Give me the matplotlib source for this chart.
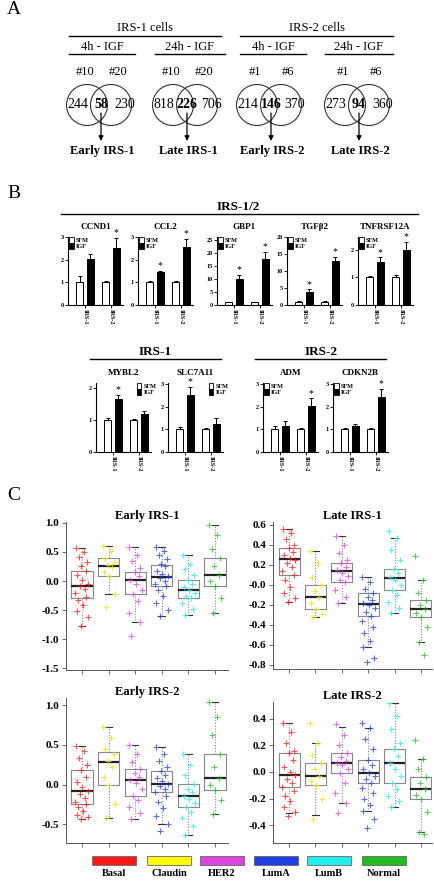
import numpy as np
import matplotlib as mpl
import matplotlib.pyplot as plt
from matplotlib.patches import Circle, Rectangle, Patch

mpl.rcParams['font.family'] = 'Liberation Serif'
mpl.rcParams['axes.unicode_minus'] = False

W, H = 435, 883

# ===== Panel A data =====
venn_cells = ['IRS-1 cells', 'IRS-2 cells']
venn_times = ['4h - IGF', '24h - IGF', '4h - IGF', '24h - IGF']
venn_clones = [('#10', '#20'), ('#10', '#20'), ('#1', '#6'), ('#1', '#6')]
venn_left = [244, 818, 214, 273]
venn_both = [58, 226, 146, 94]
venn_right = [230, 706, 370, 360]
venn_names = ['Early IRS-1', 'Late IRS-1', 'Early IRS-2', 'Late IRS-2']

# ===== Panel B data =====
cell_lines = ['IRS-1', 'IRS-2']
bar_genes = ['CCND1', 'CCL2', 'GBP1', 'TGFβ2', 'TNFRSF12A',
             'MYBL2', 'SLC7A11', 'ADM', 'CDKN2B']
sfm_mean = [[1.0, 1.0]] * 9
sfm_err = [[0.28, 0.08], [0.05, 0.05], [0.2, 0.2], [0.2, 0.1], [0.07, 0.1],
           [0.07, 0.03], [0.1, 0.05], [0.15, 0.08], [0.07, 0.05]]
igf_mean = [[2.05, 2.5], [1.45, 2.55], [10.0, 17.6], [3.7, 12.8], [1.55, 2.0],
            [1.65, 1.17], [2.52, 1.25], [1.17, 2.02], [1.17, 2.45]]
igf_err = [[0.2, 0.45], [0.06, 0.35], [1.7, 2.9], [0.9, 1.3], [0.18, 0.3],
           [0.12, 0.1], [0.35, 0.25], [0.18, 0.35], [0.05, 0.35]]
igf_star = [[0, 1], [1, 1], [1, 1], [1, 1], [1, 1],
            [1, 0], [1, 0], [0, 1], [0, 1]]

# ===== Panel C data =====
subtypes = ['Basal', 'Claudin', 'HER2', 'LumA', 'LumB', 'Normal']
c_titles = ['Early IRS-1', 'Late IRS-1', 'Early IRS-2', 'Late IRS-2']
p_values = ['1.33E-07', '1.03E-49', '2.63E-09', '3.78E-05']

# (whisker low, q1, median, q3, whisker high) per subtype
early1_box = [(-0.78, -0.29, -0.09, 0.17, 0.57), (-0.22, 0.08, 0.26, 0.40, 0.61),
              (-0.70, -0.22, 0.01, 0.16, 0.58), (-0.61, -0.08, 0.07, 0.28, 0.58),
              (-0.58, -0.30, -0.15, 0.02, 0.45), (-0.55, -0.09, 0.11, 0.40, 0.96)]
late1_box = [(-0.17, 0.10, 0.26, 0.37, 0.56), (-0.32, -0.24, -0.12, 0.0, 0.34),
             (-0.18, 0.03, 0.14, 0.22, 0.49), (-0.62, -0.31, -0.19, -0.08, 0.08),
             (-0.28, -0.05, 0.07, 0.16, 0.47), (-0.57, -0.32, -0.24, -0.15, 0.05)]
early2_box = [(-0.44, -0.25, -0.08, 0.18, 0.48), (-0.42, -0.01, 0.28, 0.41, 0.73),
              (-0.44, -0.14, 0.06, 0.19, 0.50), (-0.50, -0.09, 0.01, 0.17, 0.47),
              (-0.64, -0.28, -0.14, 0.01, 0.39), (-0.37, -0.07, 0.08, 0.38, 1.04)]
late2_box = [(-0.31, -0.11, -0.02, 0.14, 0.37), (-0.32, -0.10, -0.03, 0.07, 0.22),
             (-0.23, -0.01, 0.07, 0.14, 0.34), (-0.29, -0.08, -0.01, 0.09, 0.33),
             (-0.26, -0.08, 0.07, 0.17, 0.52), (-0.45, -0.20, -0.13, -0.04, 0.10)]

early1_pts = [
    [0.57, 0.50, 0.42, 0.33, 0.25, 0.17, 0.10, 0.02, -0.05, -0.09, -0.14, -0.20, -0.27, -0.33, -0.42, -0.52, -0.62, -0.78],
    [0.61, 0.52, 0.40, 0.33, 0.28, 0.24, 0.15, 0.08, -0.22, -0.45],
    [0.58, 0.45, 0.35, 0.22, 0.16, 0.08, 0.01, -0.05, -0.15, -0.22, -0.35, -0.55, -0.70, -0.95],
    [0.58, 0.52, 0.45, 0.38, 0.30, 0.25, 0.18, 0.12, 0.08, 0.05, 0.0, -0.05, -0.08, -0.15, -0.25, -0.38, -0.50, -0.61],
    [0.45, 0.30, 0.20, 0.10, 0.02, -0.05, -0.10, -0.15, -0.20, -0.26, -0.30, -0.38, -0.48, -0.58],
    [0.96, 0.80, 0.55, 0.40, 0.25, 0.11, 0.0, -0.09, -0.30, -0.55]]
late1_pts = [
    [0.56, 0.52, 0.46, 0.40, 0.37, 0.33, 0.30, 0.27, 0.25, 0.22, 0.18, 0.14, 0.10, 0.05, -0.02, -0.08, -0.13, -0.17],
    [0.34, 0.22, 0.08, 0.0, -0.06, -0.12, -0.18, -0.24, -0.29, -0.32],
    [0.49, 0.40, 0.32, 0.25, 0.22, 0.18, 0.15, 0.12, 0.09, 0.05, 0.03, -0.05, -0.12, -0.18],
    [0.08, 0.03, -0.04, -0.08, -0.12, -0.15, -0.18, -0.20, -0.23, -0.27, -0.31, -0.36, -0.42, -0.48, -0.56, -0.62, -0.73, -0.77],
    [0.54, 0.47, 0.35, 0.25, 0.16, 0.12, 0.08, 0.05, 0.0, -0.05, -0.10, -0.17, -0.23, -0.28],
    [0.29, 0.05, -0.08, -0.15, -0.20, -0.24, -0.28, -0.32, -0.42, -0.57, -0.70]]
early2_pts = [
    [0.48, 0.42, 0.33, 0.25, 0.18, 0.10, 0.03, -0.03, -0.08, -0.12, -0.17, -0.22, -0.25, -0.28, -0.33, -0.38, -0.41, -0.44],
    [0.73, 0.58, 0.45, 0.38, 0.30, 0.22, 0.10, -0.01, -0.25, -0.42],
    [0.50, 0.38, 0.28, 0.19, 0.14, 0.09, 0.06, 0.02, -0.05, -0.14, -0.20, -0.28, -0.36, -0.44],
    [0.47, 0.38, 0.30, 0.22, 0.17, 0.12, 0.08, 0.04, 0.01, -0.02, -0.05, -0.09, -0.15, -0.22, -0.30, -0.40, -0.50, -0.58],
    [0.39, 0.25, 0.12, 0.01, -0.05, -0.10, -0.14, -0.18, -0.23, -0.28, -0.35, -0.42, -0.52, -0.64],
    [1.04, 0.85, 0.62, 0.38, 0.22, 0.08, 0.0, -0.07, -0.20, -0.37]]
late2_pts = [
    [0.37, 0.30, 0.22, 0.16, 0.14, 0.09, 0.04, 0.0, -0.02, -0.05, -0.08, -0.11, -0.14, -0.18, -0.22, -0.26, -0.30, -0.33],
    [0.37, 0.22, 0.13, 0.07, 0.02, -0.03, -0.07, -0.10, -0.20, -0.35],
    [0.36, 0.28, 0.20, 0.14, 0.11, 0.08, 0.07, 0.05, 0.02, -0.01, -0.08, -0.16, -0.23, -0.31],
    [0.37, 0.33, 0.25, 0.17, 0.09, 0.05, 0.02, -0.01, -0.03, -0.05, -0.08, -0.12, -0.16, -0.20, -0.25, -0.29, -0.35, -0.42],
    [0.52, 0.42, 0.32, 0.22, 0.17, 0.12, 0.07, 0.02, -0.03, -0.08, -0.13, -0.18, -0.22, -0.26],
    [0.24, 0.10, 0.02, -0.04, -0.08, -0.13, -0.17, -0.20, -0.30, -0.45, -0.47]]

# ===== style =====
sub_colors = ['#ff1a1a', '#ffff00', '#dd44dd', '#1f3fe0', '#22eeee', '#22bb22']
jit = np.array([-0.22, 0.08, -0.12, 0.20, -0.02, 0.14, -0.18, 0.02, 0.24, -0.08,
                0.11, -0.25, 0.17, -0.14, 0.05, -0.20, 0.22, -0.05, 0.12, -0.10])


def px_rect(x0, y0, x1, y1):
    return [x0 / W, 1 - y1 / H, (x1 - x0) / W, (y1 - y0) / H]


fig = plt.figure(figsize=(W / 100, H / 100), dpi=100)
ov = fig.add_axes([0, 0, 1, 1])
ov.set_xlim(0, W)
ov.set_ylim(H, 0)
ov.axis('off')

# ===== Panel labels =====
for lab, y in zip('ABC', [9, 193, 495]):
    ov.text(7, y, lab, fontsize=14, va='center', ha='left')

# ===== Panel A =====
for name, xc, (x0, x1) in zip(venn_cells, [145, 317], [(69, 221), (240, 393)]):
    ov.text(xc, 28, name, ha='center', va='center', fontsize=9)
    ov.plot([x0, x1], [36, 36], color='k', lw=1)
for name, xc, (x0, x1) in zip(venn_times, [102, 190, 273, 359],
                              [(69, 135), (155, 225), (240, 306), (325, 393)]):
    ov.text(xc, 47, name, ha='center', va='center', fontsize=9)
    ov.plot([x0, x1], [54, 54], color='k', lw=1)

venn_cx = [99, 185, 269, 357]
for i, cx in enumerate(venn_cx):
    for dx in (-12, 12):
        ov.add_patch(Circle((cx + dx, 105), 20.5, fill=False, ec='#333333', lw=0.8))
    ov.text(cx - 14, 72, venn_clones[i][0], ha='center', va='center', fontsize=9)
    ov.text(cx + 19, 72, venn_clones[i][1], ha='center', va='center', fontsize=9)
    ov.text(cx - 21, 105, str(venn_left[i]), ha='center', va='center', fontsize=10)
    ov.text(cx + 2, 105, str(venn_both[i]), ha='center', va='center', fontsize=10,
            fontweight='bold')
    ov.text(cx + 26, 105, str(venn_right[i]), ha='center', va='center', fontsize=10)
    ov.annotate('', xy=(cx + 2, 141), xytext=(cx + 2, 113),
                arrowprops=dict(arrowstyle='-|>', color='k', lw=0.9,
                                mutation_scale=7, shrinkA=0, shrinkB=0))
    ov.text(cx + 3, 151, venn_names[i], ha='center', va='center', fontsize=9,
            fontweight='bold')

# ===== Panel B =====
ov.text(238, 207, 'IRS-1/2', ha='center', va='center', fontsize=9.5, fontweight='bold')
ov.plot([61, 418], [214, 214], color='k', lw=1)
for name, xc, (x0, x1) in zip(['IRS-1', 'IRS-2'], [155, 321], [(90, 221), (255, 386)]):
    ov.text(xc, 352, name, ha='center', va='center', fontsize=9.5, fontweight='bold')
    ov.plot([x0, x1], [359, 359], color='k', lw=1)

bar_rects = [(68, 237), (138, 237), (217, 237), (287, 237), (358, 237),
             (96, 383), (168, 383), (263, 383), (333, 383)]
bar_ylim = [3.0, 3.0, 26.3, 20.0, 2.47, 2.15, 3.05, 3.05, 3.05]
bar_ytop = [3, 3, 25, 20, 2, 2, 3, 3, 3]
bar_ystep = [1, 1, 5, 5, 1, 1, 1, 1, 1]
bar_leg = ['upper left'] * 5 + ['upper right', 'upper right', 'upper left', 'upper left']

xg = np.arange(2) + 0.5
for i, gene in enumerate(bar_genes):
    x0, y0 = bar_rects[i]
    h = 68 if i < 5 else 69
    ax = fig.add_axes(px_rect(x0, y0, x0 + 55, y0 + h))
    ax.bar(xg - 0.2, sfm_mean[i], 0.27, color='white', edgecolor='k', lw=0.7)
    ax.bar(xg + 0.2, igf_mean[i], 0.27, color='black', edgecolor='k', lw=0.7)
    ax.errorbar(xg - 0.2, sfm_mean[i], yerr=[[0, 0], sfm_err[i]], fmt='none',
                ecolor='k', elinewidth=0.7, capsize=1.5, capthick=0.7)
    ax.errorbar(xg + 0.2, igf_mean[i], yerr=[[0, 0], igf_err[i]], fmt='none',
                ecolor='k', elinewidth=0.7, capsize=1.5, capthick=0.7)
    for j in range(2):
        if igf_star[i][j]:
            ax.text(xg[j] + 0.2, igf_mean[i][j] + igf_err[i][j] + 0.01 * bar_ylim[i], '*',
                    ha='center', va='bottom', fontsize=7)
    ax.set_xlim(-0.15, 1.96)
    ax.set_ylim(0, bar_ylim[i])
    ax.set_yticks(np.arange(0, bar_ytop[i] + 0.1, bar_ystep[i]))
    ax.set_xticks(xg)
    ax.set_xticklabels(cell_lines, rotation=270, fontsize=4.5, fontweight='bold')
    for t in ax.get_yticklabels():
        t.set_fontsize(4.5)
        t.set_fontweight('bold')
    ax.tick_params(length=2, width=0.6, pad=1)
    for s in ['top', 'right']:
        ax.spines[s].set_visible(False)
    for s in ['left', 'bottom']:
        ax.spines[s].set_linewidth(0.8)
    ax.set_title(gene, fontsize=6.5, fontweight='bold', pad=6)
    handles = [Patch(facecolor='white', edgecolor='k', lw=0.6, label='SFM'),
               Patch(facecolor='black', edgecolor='k', lw=0.6, label='IGF')]
    anchor = (1.12, 1.02) if bar_leg[i] == 'upper right' else (0.0, 1.02)
    ax.legend(handles=handles, loc=bar_leg[i], bbox_to_anchor=anchor,
              prop=dict(size=4.5, weight='bold'), frameon=False,
              handlelength=0.7, handleheight=1.1, handletextpad=0.3,
              labelspacing=0.05, borderpad=0.1, borderaxespad=0.1)

# ===== Panel C =====
c_rects = [(66, 522, 228, 670), (273, 522, 432, 669), (66, 698, 228, 843), (273, 702, 432, 843)]
c_ylims = [(-1.534, 1.017), (-0.84, 0.63), (-0.736, 1.09), (-0.534, 0.526)]
c_xlims = [(0.4, 6.49), (0.39, 6.42), (0.4, 6.49), (0.39, 6.42)]
c_yticks = [np.arange(-1.5, 1.01, 0.5), np.arange(-0.8, 0.61, 0.2),
            np.arange(-0.5, 1.01, 0.5), np.arange(-0.4, 0.41, 0.2)]
c_ptxt = [(76, 656), (283, 657), (76, 832), (283, 832)]
c_boxes = [early1_box, late1_box, early2_box, late2_box]
c_points = [early1_pts, late1_pts, early2_pts, late2_pts]

for k in range(4):
    ax = fig.add_axes(px_rect(*c_rects[k]))
    stats = [dict(whislo=b[0], q1=b[1], med=b[2], q3=b[3], whishi=b[4], fliers=[])
             for b in c_boxes[k]]
    ax.bxp(stats, positions=range(1, 7), widths=0.8, showfliers=False, capwidths=0.25,
           boxprops=dict(color='#888888', lw=0.8),
           medianprops=dict(color='#222222', lw=1.6),
           whiskerprops=dict(color='#888888', lw=0.8, ls=(0, (1, 1.5))),
           capprops=dict(color='#333333', lw=0.8))
    for g in range(6):
        ys = np.array(c_points[k][g])
        xs = g + 1 + jit[:len(ys)]
        ax.plot(xs, ys, '+', color=sub_colors[g] if g != 1 else '#e6e600',
                ms=4, mew=0.8, alpha=0.75, ls='none', zorder=3)
    ax.set_xlim(*c_xlims[k])
    ax.set_ylim(*c_ylims[k])
    ax.set_xticks(range(1, 7))
    ax.set_xticklabels([])
    ax.set_yticks(c_yticks[k])
    ax.set_yticklabels(['%.1f' % v for v in c_yticks[k]], fontsize=8, fontweight='bold')
    ax.tick_params(length=3, width=0.6, color='#555555', pad=2)
    for s in ['top', 'right']:
        ax.spines[s].set_visible(False)
    for s in ['left', 'bottom']:
        ax.spines[s].set_linewidth(0.7)
        ax.spines[s].set_color('#555555')
    ax.set_title(c_titles[k], fontsize=9, fontweight='bold', pad=1.5)
    px_, py_ = c_ptxt[k]
    ov.text(px_, py_, 'P', fontsize=10, fontweight='bold', style='italic',
            ha='left', va='center')
    ov.text(px_ + 9, py_, '= ' + p_values[k], fontsize=10, fontweight='bold',
            ha='left', va='center')

# ===== Subtype legend =====
leg_x = [92, 147, 200, 254, 307, 362]
for i, name in enumerate(subtypes):
    ov.add_patch(Rectangle((leg_x[i], 856), 44, 9, facecolor=sub_colors[i],
                           edgecolor='#666666', lw=0.6))
    ov.text(leg_x[i] + 22, 874, name, ha='center', va='center', fontsize=7.5,
            fontweight='bold')

fig.savefig('out.png', dpi=100)
